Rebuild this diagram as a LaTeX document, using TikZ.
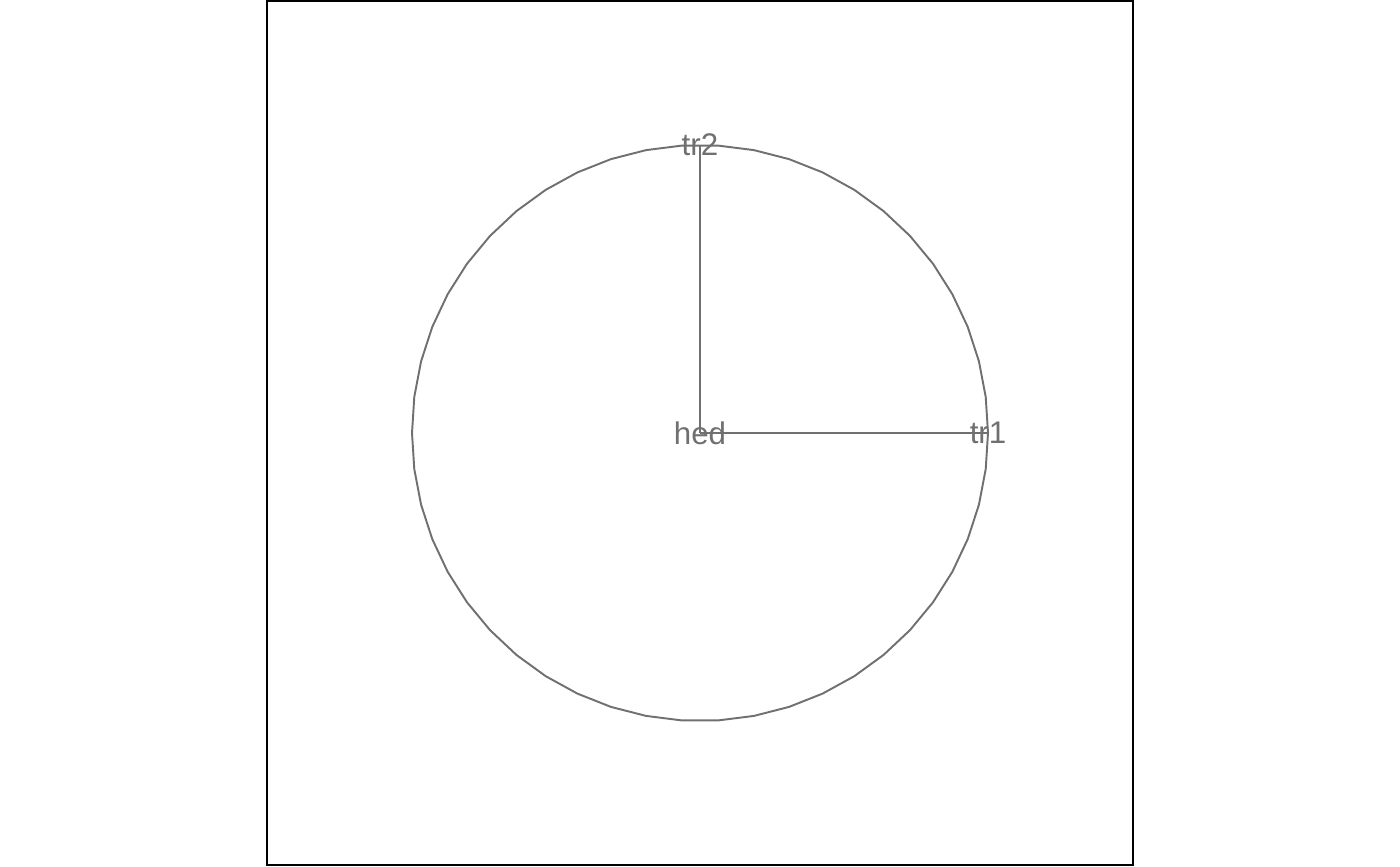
\documentclass[tikz,border=0pt]{standalone}
\usepackage{fontspec}
\setmainfont{Liberation Sans}
\usetikzlibrary{positioning}

\begin{document}
\begin{tikzpicture}[x=0.01cm,y=-0.01cm,
    edge/.style={draw=labelgray,line width=0.55pt},
    lbl/.style={text=labelgray,inner sep=0pt,font=\fontsize{8.9pt}{10pt}\selectfont}]
\definecolor{labelgray}{HTML}{707070}
\useasboundingbox (0,0) rectangle (1400,866);
\draw[black,line width=0.6pt] (267,1) rectangle (1133,865);
% nodes
\node[lbl] (hed) at (700,433) {hed};
\node[lbl] (tr1) at (988,433) {tr1};
\node[lbl] (tr2) at (700,145) {tr2};
% circle as polygon around hed
\draw[edge,shift={(hed.center)}] plot[samples=51,domain=0:360] ({288*cos(\x)},{288*sin(\x)}) -- cycle;
\draw[edge] (hed.center) -- (tr1.center);
\draw[edge] (hed.center) -- (tr2.center);
\end{tikzpicture}
\end{document}
